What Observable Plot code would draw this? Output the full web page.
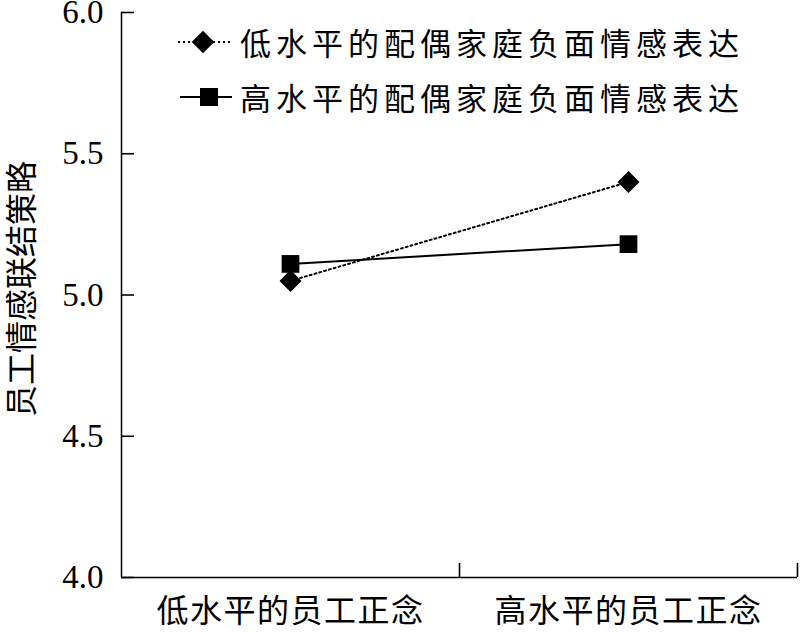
<!DOCTYPE html>
<html><head><meta charset="utf-8">
<script src="https://cdn.jsdelivr.net/npm/d3@7"></script>
<script src="https://cdn.jsdelivr.net/npm/@observablehq/plot@0.6"></script>
<style>
body{margin:0;background:#fff;}
#wrap{position:relative;width:800px;height:632px;}
#legend{position:absolute;left:170px;top:14px;font-family:"Noto Sans CJK SC",sans-serif;font-size:31px;letter-spacing:5px;color:#000;}
.row{display:flex;align-items:center;height:55px;}
.row svg{margin-right:8px;}
svg g[aria-label="x-axis tick label"] text{letter-spacing:1.5px;}
svg g[aria-label="y label"] text{letter-spacing:3px;}
</style></head>
<body><div id="wrap"><div id="legend"></div></div>
<script>
const categories = ["低水平的员工正念", "高水平的员工正念"];
const seriesNames = ["低水平的配偶家庭负面情感表达", "高水平的配偶家庭负面情感表达"];
const lowSpouse = [5.05, 5.40];
const highSpouse = [5.11, 5.18];
const yTicks = [4.0, 4.5, 5.0, 5.5, 6.0];
const yLabel = "员工情感联结策略";

const rows = [];
categories.forEach((c, i) => {
  rows.push({series: seriesNames[0], cat: c, xi: i + 0.5, v: lowSpouse[i]});
  rows.push({series: seriesNames[1], cat: c, xi: i + 0.5, v: highSpouse[i]});
});
const low = rows.filter(d => d.series === seriesNames[0]);
const high = rows.filter(d => d.series === seriesNames[1]);

const chart = Plot.plot({
  width: 800, height: 632,
  marginLeft: 121, marginRight: 3, marginTop: 12, marginBottom: 55,
  style: {fontFamily: "Liberation Serif, Noto Sans CJK SC, serif", background: "#fff", color: "#000"},
  x: {domain: [0, categories.length], axis: null},
  y: {domain: [4, 6], axis: null},
  marks: [
    Plot.ruleX([0], {stroke: "#000", strokeWidth: 1.5}),
    Plot.ruleY([4], {stroke: "#000", strokeWidth: 1.5}),
    Plot.axisY({ticks: yTicks, tickSize: 0, tickPadding: 18, tickFormat: d3.format(".1f"), fontSize: 33, fontFamily: "Liberation Serif", label: null}),
    Plot.axisY({ticks: yTicks, tickSize: 13, dx: 13, tickFormat: () => "", stroke: "#000", strokeWidth: 1.6, label: null}),
    Plot.axisX({ticks: categories.map((c, i) => i + 0.5), tickSize: 0, tickPadding: 22, tickFormat: d => categories[Math.floor(d)], fontSize: 32, fontFamily: "Noto Sans CJK SC", label: null}),
    Plot.axisX({ticks: categories.map((c, i) => i + 1), tickSize: 14, dy: -14, tickFormat: () => "", stroke: "#000", strokeWidth: 1.6, label: null}),
    Plot.text([yLabel], {frameAnchor: "left", textAnchor: "middle", dx: -99, dy: -6, rotate: -90, fontSize: 32, fontFamily: "Noto Sans CJK SC", text: d => d, ariaLabel: "y label"}),
    Plot.line(low, {x: "xi", y: "v", stroke: "#000", strokeWidth: 2, strokeDasharray: "2,3"}),
    Plot.line(high, {x: "xi", y: "v", stroke: "#000", strokeWidth: 2}),
    Plot.dot(low, {x: "xi", y: "v", symbol: "square", r: 8.8, rotate: 45, fill: "#000", stroke: "none"}),
    Plot.dot(high, {x: "xi", y: "v", symbol: "square", r: 10, fill: "#000", stroke: "none"})
  ]
});
document.getElementById("wrap").prepend(chart);

const leg = document.getElementById("legend");
leg.innerHTML =
  `<div class="row"><svg width="62" height="30"><line x1="8" x2="60" y1="15" y2="15" stroke="#000" stroke-width="2" stroke-dasharray="2,3"/><rect x="25" y="7" width="16" height="16" transform="rotate(45 33 15)" fill="#000"/></svg><span>${seriesNames[0]}</span></div>` +
  `<div class="row"><svg width="62" height="30"><line x1="10" x2="67" y1="15" y2="15" stroke="#000" stroke-width="2"/><rect x="30" y="6" width="18" height="18" fill="#000"/></svg><span>${seriesNames[1]}</span></div>`;
</script></body></html>
